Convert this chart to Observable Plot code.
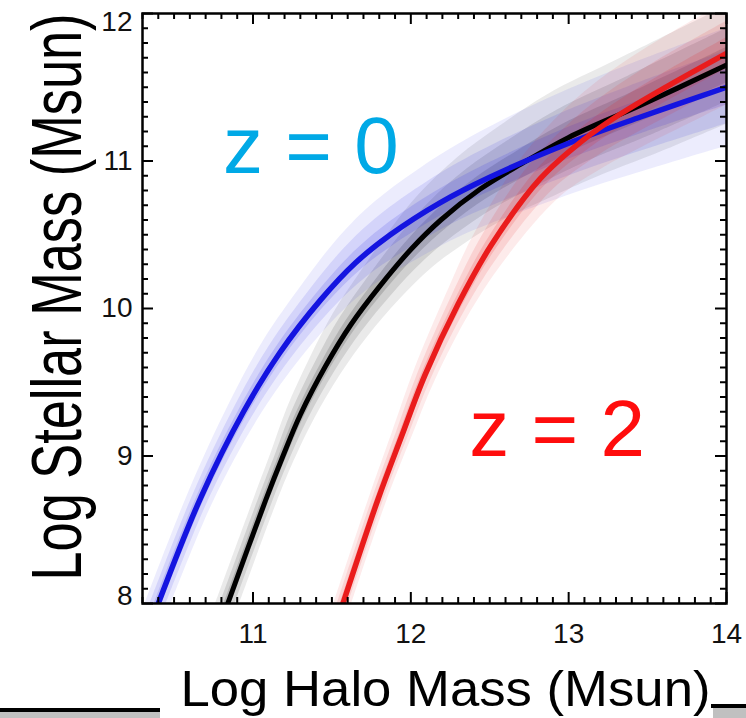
<!DOCTYPE html>
<html><head><meta charset="utf-8">
<script src="https://cdn.jsdelivr.net/npm/d3@7"></script>
<script src="https://cdn.jsdelivr.net/npm/@observablehq/plot@0.6"></script>
<style>
body{margin:0;background:#fff;}
#wrap{position:relative;width:746px;height:718px;overflow:hidden;background:#fff;}
#wrap svg{position:absolute;left:0;top:0;}
.deco{position:absolute;}
</style></head><body><div id="wrap">
<div class="deco" style="left:0;top:708px;width:160px;height:4px;background:#000"></div>
<div class="deco" style="left:0;top:712px;width:160px;height:6px;background:#c0c0c0"></div>
<div class="deco" style="left:711px;top:704px;width:35px;height:4px;background:#000"></div>
<div class="deco" style="left:713px;top:708px;width:33px;height:10px;background:#c0c0c0"></div>
</div>
<script>
// z = 0 relation (blue)
const z0Halo    = [10.40, 10.67, 10.94, 11.17, 11.43, 11.65, 11.87, 12.19, 12.50, 13.00, 13.46, 14.00];
const z0Stellar = [ 8.00,  8.72,  9.30,  9.70, 10.06, 10.31, 10.50, 10.72, 10.89, 11.12, 11.30, 11.50];
const z0Scatter = [ 0.22,  0.22,  0.23,  0.24,  0.25,  0.27,  0.29,  0.31,  0.33,  0.36,  0.38,  0.40];
// intermediate relation (black)
const zmHalo    = [10.84, 11.08, 11.19, 11.30, 11.46, 11.62, 11.81, 12.00, 12.19, 12.44, 12.70, 13.00, 13.46, 14.00];
const zmStellar = [ 8.00,  8.70,  9.00,  9.28,  9.61,  9.89, 10.16, 10.40, 10.60, 10.81, 10.98, 11.16, 11.38, 11.65];
const zmScatter = [ 0.22,  0.22,  0.22,  0.23,  0.24,  0.25,  0.26,  0.28,  0.30,  0.32,  0.34,  0.36,  0.38,  0.40];
// z = 2 relation (red)
const z2Halo    = [11.57, 11.79, 11.94, 12.09, 12.30, 12.51, 12.82, 13.09, 13.33, 13.63, 14.00];
const z2Stellar = [ 8.00,  8.70,  9.13,  9.55, 10.03, 10.43, 10.88, 11.14, 11.32, 11.51, 11.73];
const z2Scatter = [ 0.18,  0.18,  0.19,  0.20,  0.22,  0.25,  0.28,  0.30,  0.32,  0.34,  0.35];

const xMajorTicks = [11, 12, 13, 14];
const yMajorTicks = [8, 9, 10, 11, 12];
const labelTexts  = ["z = 0", "z = 2"];
const labelHalo   = [10.81, 12.37];
const labelStellar= [10.92, 9.00];
const labelColors = ["#00a9e6", "#ff0d0d"];
const xTitle = "Log Halo Mass (Msun)";
const yTitle = "Log Stellar Mass (Msun)";

const W = 746, H = 718, ML = 142, MR = 20, MT = 13, MB = 115;
const xDom = [10.3, 14], yDom = [8, 12];
const plotW = W - ML - MR, plotH = H - MT - MB;
const kx = plotW / (xDom[1] - xDom[0]), ky = plotH / (yDom[1] - yDom[0]);

const xMinor = d3.range(103, 141).map(d => d / 10).filter(v => !xMajorTicks.includes(v));
const yMinor = d3.range(80, 121).map(d => d / 10).filter(v => !yMajorTicks.includes(v));

const series = (halo, stellar) => halo.map((h, i) => ({x: h, y: stellar[i]}));
// scatter envelope: vertical scatter (dex) turned into a band perpendicular to the relation
function band(halo, stellar, scatter, f) {
  const n = halo.length, out = [];
  for (let i = 0; i < n; i++) {
    const s = scatter[i] * f;
    let lx, ly, ux, uy;
    if (i === 0) {
      const slope = (stellar[1] - stellar[0]) / (halo[1] - halo[0]);
      const hx = s / slope;
      ux = halo[0] - hx; uy = stellar[0]; lx = halo[0] + hx; ly = stellar[0];
    } else if (i === n - 1) {
      ux = halo[i]; uy = stellar[i] + s; lx = halo[i]; ly = stellar[i] - s;
    } else {
      const TX = (halo[i + 1] - halo[i - 1]) * kx, TY = (stellar[i + 1] - stellar[i - 1]) * ky;
      const L = Math.hypot(TX, TY);
      const h = s * ky * TX / L;
      const nX = -TY / L, nY = TX / L;
      ux = halo[i] + nX * h / kx; uy = stellar[i] + nY * h / ky;
      lx = halo[i] - nX * h / kx; ly = stellar[i] - nY * h / ky;
    }
    out.push({ux, uy, lx, ly});
  }
  return out;
}
const layers = [[1.0, 0.09], [0.62, 0.12], [0.3, 0.16]];
const sets = [
  {halo: zmHalo, st: zmStellar, sc: zmScatter, color: "#1a1a1a"},
  {halo: z0Halo, st: z0Stellar, sc: z0Scatter, color: "#2a2ae6"},
  {halo: z2Halo, st: z2Stellar, sc: z2Scatter, color: "#e82020"}
];
const scatterMarks = [];
sets.forEach(s => layers.forEach(([f, op]) => {
  scatterMarks.push(Plot.area(band(s.halo, s.st, s.sc, f), {
    x1: "lx", y1: "ly", x2: "ux", y2: "uy", fill: s.color, fillOpacity: op,
    curve: "catmull-rom", clip: true
  }));
}));

const labels = labelTexts.map((t, i) => ({text: t, x: labelHalo[i], y: labelStellar[i], color: labelColors[i]}));
const tickStyle = {stroke: "#000", strokeWidth: 2};
const axisText = {tickSize: 0, fontSize: 28, label: null, fill: "#111", tickFormat: "d"};

const chart = Plot.plot({
  width: W, height: H,
  marginLeft: ML, marginRight: MR, marginTop: MT, marginBottom: MB,
  style: {fontFamily: "'Liberation Sans', Arial, Helvetica, sans-serif", background: "transparent", overflow: "visible"},
  x: {domain: xDom},
  y: {domain: yDom},
  marks: [
    ...scatterMarks,
    Plot.line(series(zmHalo, zmStellar), {x: "x", y: "y", stroke: "#000", strokeWidth: 5, curve: "catmull-rom", clip: true}),
    Plot.line(series(z0Halo, z0Stellar), {x: "x", y: "y", stroke: "#1414e0", strokeWidth: 5.5, curve: "catmull-rom", clip: true}),
    Plot.line(series(z2Halo, z2Stellar), {x: "x", y: "y", stroke: "#ea1c1c", strokeWidth: 5.5, curve: "catmull-rom", clip: true}),
    Plot.text(labels, {x: "x", y: "y", text: "text", fill: "color", fontSize: 80, textAnchor: "start", lineAnchor: "bottom"}),
    Plot.tickX(xMinor, {x: d => d, insetTop: plotH - 6, ...tickStyle}),
    Plot.tickX(xMinor, {x: d => d, insetBottom: plotH - 6, ...tickStyle}),
    Plot.tickX(xMajorTicks, {x: d => d, insetTop: plotH - 11, ...tickStyle}),
    Plot.tickX(xMajorTicks, {x: d => d, insetBottom: plotH - 11, ...tickStyle}),
    Plot.tickY(yMinor, {y: d => d, insetRight: plotW - 6, ...tickStyle}),
    Plot.tickY(yMinor, {y: d => d, insetLeft: plotW - 6, ...tickStyle}),
    Plot.tickY(yMajorTicks, {y: d => d, insetRight: plotW - 11, ...tickStyle}),
    Plot.tickY(yMajorTicks, {y: d => d, insetLeft: plotW - 11, ...tickStyle}),
    Plot.frame({stroke: "#000", strokeWidth: 2.5}),
    Plot.axisX(xMajorTicks, {anchor: "bottom", tickPadding: 20, ...axisText}),
    Plot.axisY(yMajorTicks.filter(v => v > 8 && v < 12), {anchor: "left", tickPadding: 10, ...axisText}),
    Plot.axisY(yMajorTicks.filter(v => v === 12), {anchor: "left", tickPadding: 10, dy: 9, ...axisText}),
    Plot.axisY(yMajorTicks.filter(v => v === 8), {anchor: "left", tickPadding: 10, dy: -7, ...axisText}),
    Plot.text([xTitle], {frameAnchor: "bottom", textAnchor: "middle", dx: 11, dy: 102, lineAnchor: "bottom", fontSize: 50, fill: "#000"}),
    Plot.text([yTitle], {frameAnchor: "left", textAnchor: "middle", rotate: -90, dx: -62, dy: -11.5, lineAnchor: "bottom", fontSize: 71, fill: "#000"})
  ]
});

const svg = d3.select(chart);
svg.selectAll("text").filter(function () { return this.textContent === xTitle; })
  .attr("textLength", 530).attr("lengthAdjust", "spacingAndGlyphs");
svg.selectAll("text").filter(function () { return this.textContent === yTitle; })
  .attr("textLength", 567).attr("lengthAdjust", "spacingAndGlyphs");
document.getElementById("wrap").appendChild(chart);
</script></body></html>
